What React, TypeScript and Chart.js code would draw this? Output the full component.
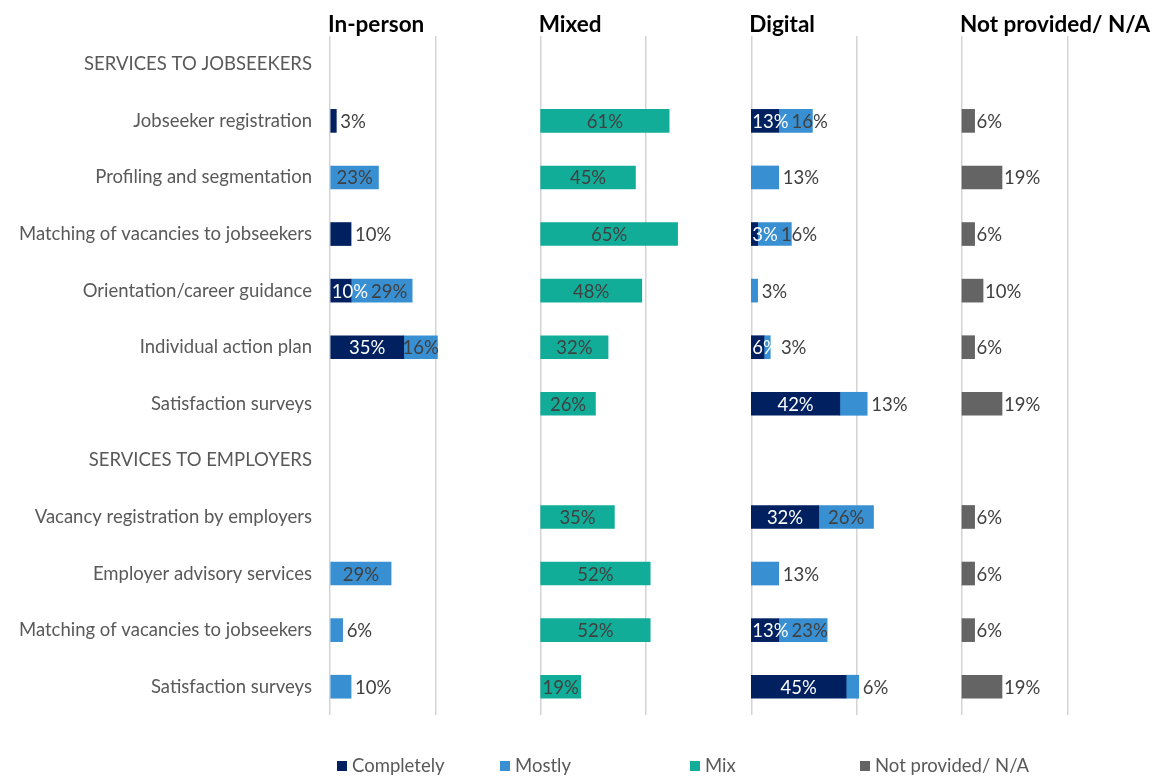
import React, { useEffect, useRef } from 'react';
import { Chart, registerables } from 'chart.js';

Chart.register(...registerables);

// ---------- DATA ----------
const categories = [
  'SERVICES TO JOBSEEKERS',
  'Jobseeker registration',
  'Profiling and segmentation',
  'Matching of vacancies to jobseekers',
  'Orientation/career guidance',
  'Individual action plan',
  'Satisfaction surveys',
  'SERVICES TO EMPLOYERS',
  'Vacancy registration by employers',
  'Employer advisory services',
  'Matching of vacancies to jobseekers',
  'Satisfaction surveys',
];
const panelTitles = ['In-person', 'Mixed', 'Digital', 'Not provided/ N/A'];
const seriesNames = ['Completely', 'Mostly', 'Mix', 'Not provided/ N/A'];

const inPersonCompletely = [null, 3, null, 10, 10, 35, null, null, null, null, null, null];
const inPersonMostly = [null, null, 23, null, 29, 16, null, null, null, 29, 6, 10];
const mixedMix = [null, 61, 45, 65, 48, 32, 26, null, 35, 52, 52, 19];
const digitalCompletely = [null, 13, null, 3, null, 6, 42, null, 32, null, 13, 45];
const digitalMostly = [null, 16, 13, 16, 3, 3, 13, null, 26, 13, 23, 6];
const notProvided = [null, 6, 19, 6, 10, 6, 19, null, 6, 6, 6, 19];

// ---------- STYLE ----------
const COLORS: Record<string, string> = {
  Completely: '#002060',
  Mostly: '#388fd1',
  Mix: '#12ad99',
  NP: '#646464',
};
const FONT = 'Lato, "Open Sans", sans-serif';
const LABEL_SIZE = 18.5;
const TICK_SIZE = 18.5;
const PANEL_WIDTH = 100;
const X_MAX = 394;

type Seg = { kind: string; panel: number; values: (number | null)[]; base?: (number | null)[] };

const segs: Seg[] = [
  { kind: 'Completely', panel: 0, values: inPersonCompletely },
  { kind: 'Mostly', panel: 0, values: inPersonMostly, base: inPersonCompletely },
  { kind: 'Mix', panel: 1, values: mixedMix },
  { kind: 'Completely', panel: 2, values: digitalCompletely },
  { kind: 'Mostly', panel: 2, values: digitalMostly, base: digitalCompletely },
  { kind: 'NP', panel: 3, values: notProvided },
];

const segLabelPlugin = {
  id: 'segLabels',
  afterDatasetsDraw(chart: any) {
    const ctx = chart.ctx;
    ctx.save();
    ctx.font = `${LABEL_SIZE}px ${FONT}`;
    ctx.textBaseline = 'middle';
    ctx.textAlign = 'left';
    const datasets = chart.data.datasets;
    for (let i = 0; i < categories.length; i++) {
      const groups: Record<number, any[]> = {};
      datasets.forEach((ds: any, di: number) => {
        const v = ds.values[i];
        if (v == null) return;
        const el = chart.getDatasetMeta(di).data[i];
        if (!el) return;
        (groups[ds.panel] = groups[ds.panel] || []).push({ ds, el, v });
      });
      Object.values(groups).forEach((list) => {
        let prevEnd = -Infinity;
        list.forEach((s: any, k: number) => {
          const text = `${s.v}%`;
          const w = ctx.measureText(text).width;
          const start = Math.min(s.el.x, s.el.base);
          const end = Math.max(s.el.x, s.el.base);
          const segW = end - start;
          const y = s.el.y + 1;
          const isC = s.ds.kind === 'Completely';
          const hasNext = k < list.length - 1;
          let x: number;
          let color = '#404040';
          if (s.ds.kind === 'NP') {
            x = end + 2;
          } else if (w <= segW + 4) {
            x = Math.max(start + segW / 2 - w / 2, prevEnd + 3);
            if (isC) color = '#ffffff';
          } else if (isC && hasNext) {
            x = start + 1;
            color = '#ffffff';
          } else {
            x = Math.max(end + 4, prevEnd + 3);
          }
          ctx.fillStyle = color;
          ctx.fillText(text, x, y);
          prevEnd = x + w;
        });
      });
    }
    ctx.restore();
  },
};

const headerPlugin = {
  id: 'panelHeaders',
  afterDraw(chart: any) {
    const ctx = chart.ctx;
    const xs = chart.scales.x;
    ctx.save();
    ctx.font = `bold 22.5px ${FONT}`;
    ctx.fillStyle = '#000000';
    ctx.textBaseline = 'middle';
    ctx.textAlign = 'left';
    panelTitles.forEach((t, p) => {
      ctx.fillText(t, xs.getPixelForValue(p * PANEL_WIDTH) - 2, 25);
    });
    ctx.restore();
  },
};

const LEGEND_X = [337, 500, 690, 860];
const LEGEND_COLORS = [COLORS.Completely, COLORS.Mostly, COLORS.Mix, COLORS.NP];
const legendPlugin = {
  id: 'customLegend',
  afterDraw(chart: any) {
    const ctx = chart.ctx;
    ctx.save();
    ctx.font = `${LABEL_SIZE}px ${FONT}`;
    ctx.textBaseline = 'middle';
    ctx.textAlign = 'left';
    seriesNames.forEach((name, i) => {
      ctx.fillStyle = LEGEND_COLORS[i];
      ctx.fillRect(LEGEND_X[i], 761, 10, 10);
      ctx.fillStyle = '#595959';
      ctx.fillText(name, LEGEND_X[i] + 15, 766);
    });
    ctx.restore();
  },
};

export default function App() {
  const ref = useRef<HTMLCanvasElement | null>(null);
  useEffect(() => {
    document.body.style.margin = '0';
    const canvas = ref.current;
    if (!canvas) return;
    const datasets = segs.map((s) => ({
      label: s.kind,
      kind: s.kind,
      panel: s.panel,
      values: s.values,
      data: s.values.map((v, i) => {
        if (v == null) return null;
        const b = s.base ? s.base[i] ?? 0 : 0;
        const off = s.panel * PANEL_WIDTH;
        return [off + b, off + b + v];
      }),
      backgroundColor: COLORS[s.kind],
      borderWidth: 0,
      barThickness: 23,
      grouped: false,
    }));
    const chart = new Chart(canvas, {
      type: 'bar',
      data: { labels: categories, datasets: datasets as any },
      options: {
        indexAxis: 'y',
        responsive: false,
        animation: false,
        devicePixelRatio: 1,
        layout: { padding: { top: 36, bottom: 61, left: 0, right: 0 } },
        plugins: {
          legend: { display: false },
          tooltip: { enabled: false },
        },
        scales: {
          x: {
            type: 'linear',
            min: 0,
            max: X_MAX,
            ticks: { display: false, stepSize: 50 },
            border: { display: false },
            grid: {
              drawTicks: false,
              lineWidth: 1.5,
              color: (c: any) => (c.tick && c.tick.value % 50 === 0 ? '#d4d4d4' : 'rgba(0,0,0,0)'),
            },
            afterFit: (scale: any) => {
              scale.height = 0;
            },
          },
          y: {
            type: 'category',
            grid: { display: false, drawTicks: false },
            border: { display: false },
            ticks: {
              color: '#595959',
              font: { family: FONT, size: TICK_SIZE },
              padding: 18,
              autoSkip: false,
            },
            afterFit: (scale: any) => {
              scale.width = 330;
            },
          },
        },
      } as any,
      plugins: [segLabelPlugin, headerPlugin, legendPlugin],
    });
    return () => chart.destroy();
  }, []);
  return <canvas ref={ref} width={1160} height={776} style={{ display: 'block', width: 1160, height: 776 }} />;
}
